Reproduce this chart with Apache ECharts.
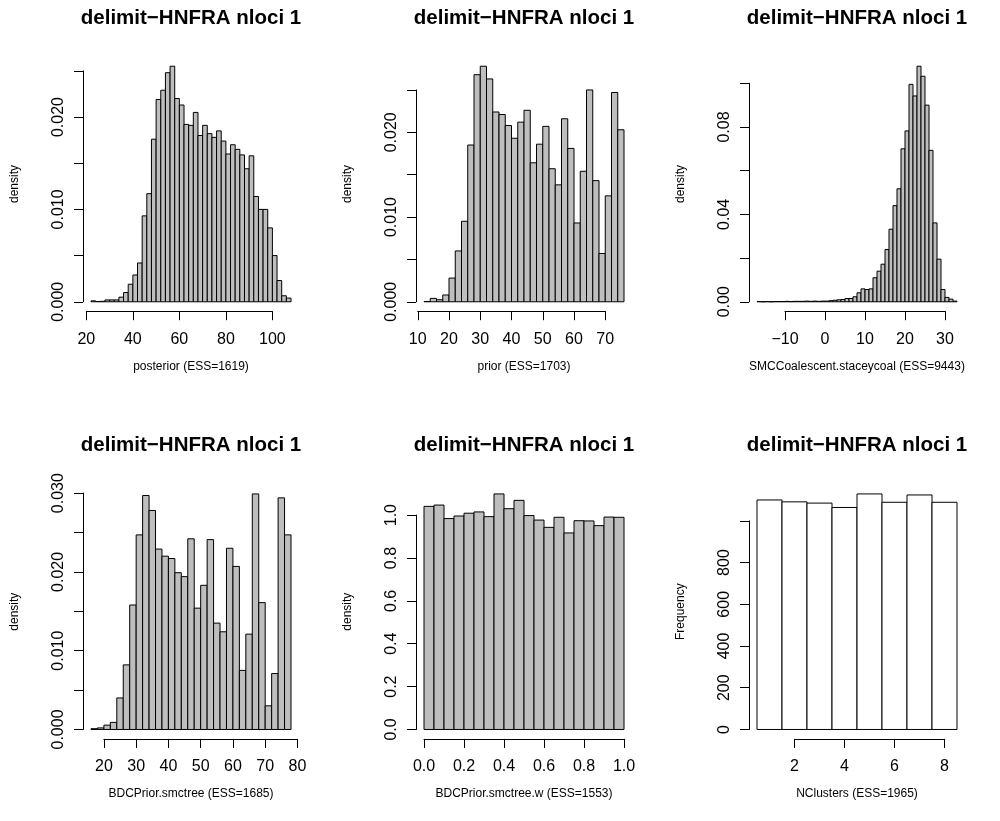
<!DOCTYPE html>
<html>
<head>
<meta charset="utf-8">
<script src="https://cdn.jsdelivr.net/npm/echarts@6/dist/echarts.min.js"></script>
<style>
  html, body { margin: 0; background: #fff; }
  #chart { width: 1000px; height: 821px; }
</style>
</head>
<body>
<div id="chart"></div>
<script>
// histogram data: first break, bin width, bar heights
const posteriorStart = 22, posteriorBin = 2
const posteriorDensity = [0.0001, 0.00003, 0.00005, 0.0002, 0.0002, 0.0002, 0.0005, 0.001, 0.0019, 0.0029,
  0.0042, 0.0093, 0.0117, 0.0176, 0.0219, 0.0229, 0.0248, 0.0255, 0.0220, 0.0213,
  0.0192, 0.0191, 0.0205, 0.0180, 0.0191, 0.0182, 0.0178, 0.0185, 0.0174, 0.0160,
  0.0170, 0.0165, 0.0159, 0.0144, 0.0158, 0.0114, 0.0100, 0.0100, 0.0080, 0.0050,
  0.0023, 0.00065, 0.0004]
const posteriorXTicks = [20, 40, 60, 80, 100]
const posteriorYTicks = [0, 0.005, 0.010, 0.015, 0.020, 0.025]

const priorStart = 12, priorBin = 2
const priorDensity = [0.00004, 0.0004, 0.00024, 0.0008, 0.0028, 0.0060, 0.0095, 0.0185, 0.0268, 0.0278,
  0.0263, 0.0224, 0.0221, 0.0208, 0.0193, 0.0212, 0.0226, 0.0164, 0.0186, 0.0207,
  0.0157, 0.0138, 0.0216, 0.0181, 0.0093, 0.0154, 0.0250, 0.0143, 0.0057, 0.0125,
  0.0247, 0.0203]
const priorXTicks = [10, 20, 30, 40, 50, 60, 70]
const priorYTicks = [0, 0.005, 0.010, 0.015, 0.020, 0.025]

const smcStart = -17, smcBin = 1
const smcDensity = [0.0001, 0, 0.0001, 0, 0.0001, 0.0001, 0.0001, 0.0002, 0.0001, 0.0002,
  0.0002, 0.0002, 0.0003, 0.0002, 0.0003, 0.0002, 0.0003,
  0.0003, 0.0005, 0.0007, 0.0009, 0.0010, 0.0015, 0.0015, 0.0023, 0.0041, 0.0059,
  0.0056, 0.0059, 0.0110, 0.0140, 0.0172, 0.0239, 0.0332, 0.0440, 0.0517, 0.0700,
  0.0782, 0.0995, 0.0942, 0.1078, 0.1032, 0.0900, 0.0693, 0.0361, 0.0195, 0.0056,
  0.0020, 0.0012, 0.0003]
const smcXTicks = [-10, 0, 10, 20, 30]
const smcYTicks = [0, 0.02, 0.04, 0.06, 0.08, 0.10]

const bdcStart = 16, bdcBin = 2
const bdcDensity = [0.0001, 0.0002, 0.00055, 0.0009, 0.0040, 0.0082, 0.0158, 0.0247, 0.0297, 0.0278,
  0.0229, 0.0220, 0.0217, 0.0199, 0.0194, 0.0242, 0.0154, 0.0183, 0.0241, 0.0135,
  0.0124, 0.0230, 0.0207, 0.0075, 0.0121, 0.0299, 0.0161, 0.0030, 0.0071, 0.0294,
  0.0247]
const bdcXTicks = [20, 30, 40, 50, 60, 70, 80]
const bdcYTicks = [0, 0.005, 0.010, 0.015, 0.020, 0.025, 0.030]

const wStart = 0, wBin = 0.05
const wDensity = [1.041, 1.047, 0.984, 0.996, 1.009, 1.015, 0.993, 1.099, 1.030, 1.069,
  0.998, 0.977, 0.943, 0.990, 0.917, 0.974, 0.973, 0.951, 0.991, 0.990]
const wXTicks = [0, 0.2, 0.4, 0.6, 0.8, 1.0]
const wYTicks = [0, 0.2, 0.4, 0.6, 0.8, 1.0]

const nclStart = 0.5, nclBin = 1
const nclFreq = [1100, 1091, 1085, 1064, 1129, 1089, 1124, 1089]
const nclXTicks = [2, 4, 6, 8]
const nclYTicks = [0, 200, 400, 600, 800, 1000]

const mainTitle = 'delimit\u2212HNFRA nloci 1'

const panels = [
  { xName: 'posterior (ESS=1619)', yName: 'density', start: posteriorStart, bin: posteriorBin, values: posteriorDensity,
    xTicks: posteriorXTicks, yTicks: posteriorYTicks, xDec: 0, yDec: 3, yShow: i => i % 2 === 0, fill: '#bebebe' },
  { xName: 'prior (ESS=1703)', yName: 'density', start: priorStart, bin: priorBin, values: priorDensity,
    xTicks: priorXTicks, yTicks: priorYTicks, xDec: 0, yDec: 3, yShow: i => i % 2 === 0, fill: '#bebebe' },
  { xName: 'SMCCoalescent.staceycoal (ESS=9443)', yName: 'density', start: smcStart, bin: smcBin, values: smcDensity,
    xTicks: smcXTicks, yTicks: smcYTicks, xDec: 0, yDec: 2, yShow: i => i % 2 === 0, fill: '#bebebe' },
  { xName: 'BDCPrior.smctree (ESS=1685)', yName: 'density', start: bdcStart, bin: bdcBin, values: bdcDensity,
    xTicks: bdcXTicks, yTicks: bdcYTicks, xDec: 0, yDec: 3, yShow: i => i % 2 === 0, fill: '#bebebe' },
  { xName: 'BDCPrior.smctree.w (ESS=1553)', yName: 'density', start: wStart, bin: wBin, values: wDensity,
    xTicks: wXTicks, yTicks: wYTicks, xDec: 1, yDec: 1, yShow: i => true, fill: '#bebebe' },
  { xName: 'NClusters (ESS=1965)', yName: 'Frequency', start: nclStart, bin: nclBin, values: nclFreq,
    xTicks: nclXTicks, yTicks: nclYTicks, xDec: 0, yDec: 0, yShow: i => i < 5, fill: '#ffffff' }
]

// plot regions (R mfrow 2x3)
const colLeft = [83, 416, 749]
const rowTop = [56.8, 484.5]
const plotW = 216
const plotH = 254.4
const titleY = [18, 445]
const font = 'Liberation Sans, Arial, Helvetica, sans-serif'

function fmt (v, d) {
  return v.toFixed(d).replace('-', '\u2212')
}

const grid = [], xAxis = [], yAxis = [], series = [], graphic = []
const hidden = { show: false }

panels.forEach((p, i) => {
  const left = colLeft[i % 3]
  const top = rowTop[Math.floor(i / 3)]
  const lo = p.start
  const hi = p.start + p.values.length * p.bin
  const xmin = lo - 0.04 * (hi - lo)
  const xmax = hi + 0.04 * (hi - lo)
  const vmax = Math.max(...p.values)
  const ymin = -0.04 * vmax
  const ymax = 1.04 * vmax
  const xt0 = p.xTicks[0], xt1 = p.xTicks[p.xTicks.length - 1]
  const yt0 = p.yTicks[0], yt1 = p.yTicks[p.yTicks.length - 1]
  const base = grid.length

  // data grid (holds bars and axis titles)
  grid.push({ left: left, top: top, width: plotW, height: plotH })
  // x axis grid, only as wide as the ticks (like R)
  grid.push({ left: left + (xt0 - xmin) / (xmax - xmin) * plotW, top: top,
    width: (xt1 - xt0) / (xmax - xmin) * plotW, height: plotH })
  // y axis grid, only as tall as the ticks
  grid.push({ left: left, top: top + (ymax - yt1) / (ymax - ymin) * plotH,
    width: plotW, height: (yt1 - yt0) / (ymax - ymin) * plotH })

  xAxis.push({ gridIndex: base, type: 'value', min: xmin, max: xmax,
    axisLine: hidden, axisTick: hidden, axisLabel: hidden, splitLine: hidden,
    name: p.xName, nameLocation: 'middle', nameGap: 49,
    nameTextStyle: { fontFamily: font, fontSize: 12, color: '#000' } })
  yAxis.push({ gridIndex: base, type: 'value', min: ymin, max: ymax,
    axisLine: hidden, axisTick: hidden, axisLabel: hidden, splitLine: hidden,
    name: p.yName, nameLocation: 'middle', nameGap: 62, nameRotate: 90,
    nameTextStyle: { fontFamily: font, fontSize: 12, color: '#000' } })

  const axisStyle = { lineStyle: { color: '#000', width: 1 } }
  xAxis.push({ gridIndex: base + 1, type: 'value', position: 'bottom',
    min: xt0, max: xt1, interval: p.xTicks[1] - p.xTicks[0],
    axisLine: { show: true, ...axisStyle }, axisTick: { show: true, length: 9, ...axisStyle },
    splitLine: hidden,
    axisLabel: { margin: 20, fontFamily: font, fontSize: 16, color: '#000',
      showMinLabel: true, showMaxLabel: true, hideOverlap: false,
      formatter: v => fmt(v, p.xDec) } })
  yAxis.push({ gridIndex: base + 1, type: 'value', show: false })

  xAxis.push({ gridIndex: base + 2, type: 'value', show: false })
  yAxis.push({ gridIndex: base + 2, type: 'value', position: 'left',
    min: yt0, max: yt1, interval: p.yTicks[1] - p.yTicks[0],
    axisLine: { show: true, ...axisStyle }, axisTick: { show: true, length: 9, ...axisStyle },
    splitLine: hidden,
    axisLabel: { margin: 16, rotate: 90, fontFamily: font, fontSize: 16, color: '#000',
      showMinLabel: true, showMaxLabel: true, hideOverlap: false,
      formatter: (v, idx) => p.yShow(idx) ? fmt(v, p.yDec) : '' } })

  series.push({
    type: 'custom',
    xAxisIndex: base,
    yAxisIndex: base,
    data: p.values.map((v, k) => [p.start + k * p.bin, p.start + (k + 1) * p.bin, v]),
    renderItem: (params, api) => {
      const a = api.coord([api.value(0), 0])
      const b = api.coord([api.value(1), api.value(2)])
      return {
        type: 'rect',
        shape: { x: a[0], y: b[1], width: b[0] - a[0], height: a[1] - b[1] },
        style: { fill: p.fill, stroke: '#000', lineWidth: 1 }
      }
    }
  })

  graphic.push({
    type: 'text', x: left + plotW / 2, y: titleY[Math.floor(i / 3)],
    style: { text: mainTitle, font: 'bold 20.5px ' + font, fill: '#000',
      textAlign: 'center', textVerticalAlign: 'middle' }
  })
})

const chart = echarts.init(document.getElementById('chart'))
chart.setOption({
  animation: false,
  backgroundColor: '#fff',
  grid: grid,
  xAxis: xAxis,
  yAxis: yAxis,
  series: series,
  graphic: graphic
})
</script>
</body>
</html>
